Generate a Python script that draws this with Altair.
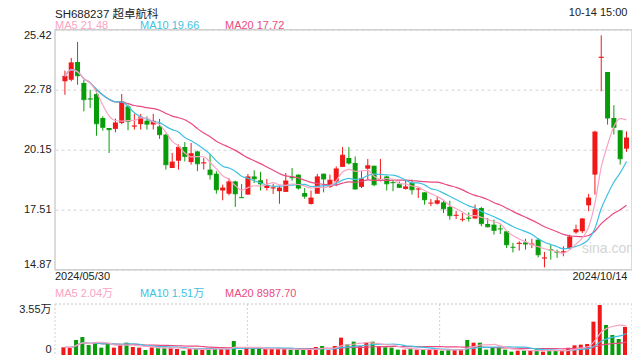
import altair as alt
import pandas as pd

# ---- data (daily candles 2024/05/30 .. 2024/10/14) ----
opens = [23.15, 23.22, 24.00, 23.08, 22.39, 22.59, 21.54, 21.10, 21.06, 21.32,
         22.05, 21.17, 21.27, 21.42, 21.25, 21.17, 20.81, 19.34, 19.66, 20.26,
         19.60, 20.07, 19.55, 19.27, 19.09, 18.35, 18.21, 18.75, 18.06, 18.17,
         18.97, 18.80, 18.46, 18.45, 18.32, 18.29, 18.95, 19.05, 18.24, 17.76,
         18.21, 19.09, 18.51, 18.75, 19.39, 19.78, 19.56, 18.51, 19.31, 19.44,
         18.78, 18.97, 18.72, 18.65, 18.42, 18.68, 18.41, 18.27, 17.79, 17.77,
         17.83, 17.63, 17.24, 17.07, 17.15, 17.12, 17.58, 16.88, 16.85, 16.67,
         16.56, 15.86, 16.00, 16.07, 15.98, 16.19, 15.37, 15.76, 15.66, 15.63,
         15.82, 16.51, 16.56, 17.70, 19.05, 24.18, 23.56, 21.54, 21.00, 20.19]
highs = [23.62, 24.18, 24.88, 23.22, 22.78, 22.78, 21.61, 21.10, 21.51, 22.59,
         22.12, 21.72, 21.72, 21.61, 21.72, 21.50, 20.84, 20.00, 20.37, 20.48,
         20.44, 20.10, 19.78, 19.96, 19.20, 18.61, 18.90, 18.78, 18.64, 19.08,
         19.24, 19.17, 18.86, 18.65, 18.56, 19.12, 19.34, 19.05, 18.46, 18.35,
         19.08, 19.09, 19.05, 19.41, 20.26, 20.26, 19.85, 19.22, 19.74, 19.44,
         19.74, 19.00, 18.83, 18.75, 18.83, 18.83, 18.49, 18.27, 17.98, 18.10,
         17.90, 17.90, 17.46, 17.36, 17.39, 17.73, 17.63, 17.14, 17.07, 16.85,
         16.60, 16.05, 16.12, 16.23, 16.23, 16.26, 15.65, 15.97, 15.75, 15.90,
         16.41, 16.85, 17.14, 18.20, 20.98, 25.17, 23.56, 22.10, 21.00, 20.95]
lows = [22.56, 23.15, 23.00, 21.83, 21.98, 20.76, 20.98, 20.00, 20.91, 21.27,
        21.00, 21.03, 21.03, 21.03, 21.03, 20.62, 19.27, 19.34, 19.27, 19.63,
        19.49, 19.20, 19.27, 18.83, 18.21, 17.92, 18.14, 17.63, 18.02, 18.17,
        18.68, 18.35, 18.35, 18.20, 17.77, 18.29, 18.78, 18.39, 17.99, 17.73,
        18.21, 18.27, 18.46, 18.54, 19.39, 19.49, 18.39, 18.46, 18.83, 18.54,
        18.75, 18.35, 18.32, 18.46, 18.39, 18.17, 18.02, 17.73, 17.66, 17.73,
        17.36, 17.07, 17.10, 16.99, 16.99, 17.12, 16.78, 16.73, 16.41, 16.44,
        15.82, 15.63, 15.71, 15.75, 15.82, 15.41, 14.97, 15.31, 15.39, 15.46,
        15.75, 16.45, 16.48, 17.44, 18.17, 22.71, 21.25, 20.81, 19.49, 20.05]
closes = [23.37, 23.96, 23.40, 22.35, 22.37, 21.29, 21.13, 21.03, 21.32, 22.24,
          21.39, 21.19, 21.57, 21.27, 21.39, 20.81, 19.49, 19.60, 20.25, 19.85,
          19.97, 19.53, 19.57, 19.05, 18.39, 18.46, 18.73, 18.21, 18.04, 18.95,
          18.87, 18.65, 18.56, 18.47, 18.46, 18.77, 18.92, 18.46, 18.10, 18.02,
          18.95, 18.86, 18.80, 19.30, 19.90, 19.56, 18.42, 18.86, 19.44, 18.61,
          18.83, 18.65, 18.70, 18.49, 18.51, 18.39, 18.42, 17.95, 17.80, 17.90,
          17.55, 17.25, 17.26, 17.08, 17.13, 17.51, 16.90, 16.76, 16.60, 16.66,
          15.97, 15.85, 16.03, 16.00, 16.00, 15.53, 15.39, 15.74, 15.64, 15.66,
          16.31, 16.63, 17.10, 18.02, 20.92, 24.21, 21.54, 21.13, 19.75, 20.66]
volumes = [5336, 5336, 10440, 12528, 6960, 8816, 5104, 8120, 5104, 6960,
           8584, 5568, 5104, 3480, 5336, 5104, 5104, 5104, 4176, 3016,
           4176, 4176, 3712, 4640, 4640, 4176, 4176, 9744, 3480, 5104,
           4176, 4176, 4176, 4176, 4176, 4176, 3712, 3712, 3712, 3712,
           5568, 6264, 3480, 6264, 12064, 7424, 9280, 6264, 8584, 9280,
           5800, 5336, 5104, 3712, 3712, 4176, 3712, 3712, 3712, 3944,
           3016, 3712, 3712, 3712, 10440, 8584, 8584, 3712, 5336, 5336,
           3712, 2320, 3016, 3016, 3016, 3944, 2320, 3016, 3016, 2784,
           5104, 6728, 7192, 7656, 23200, 34800, 20880, 13920, 11136, 19488]

price_ticks = [14.87, 17.51, 20.15, 22.78, 25.42]
vol_max = 35500

df = pd.DataFrame({"i": list(range(len(closes))), "open": opens, "high": highs,
                   "low": lows, "close": closes, "vol": volumes})

RED = "#f01818"
GREEN = "#089c08"
C5 = "#f9a4c2"
C10 = "#3fc1e3"
C20 = "#ea4a82"
FONT = "Liberation Sans, Noto Sans CJK SC, sans-serif"

W = 577
PH = 240
VTOP = 274.3
VBOT = 325.3
H = 326

xs = alt.Scale(domain=[-0.78, 89.08], nice=False, zero=False)
X = alt.X("i:Q", scale=xs, axis=None)
ps = alt.Scale(domain=[price_ticks[0], price_ticks[-1]], range=[PH, 0], nice=False, zero=False)
vs = alt.Scale(domain=[0, vol_max], range=[VBOT, VTOP], nice=False, zero=False)

updown = alt.condition("datum.close >= datum.open", alt.value(RED), alt.value(GREEN))

price_axis = alt.Axis(values=price_ticks, format=".2f", labelFlush=True, ticks=False,
                      domain=False, grid=True, gridDash=[3, 3], gridColor="#e2e2e2",
                      gridWidth=1.5, labelFontSize=11, labelColor="#222", labelFont=FONT,
                      labelPadding=4, title=None, orient="left")
vol_axis = alt.Axis(values=[0, vol_max], labelExpr="datum.value == 0 ? '0' : '3.55万'",
                    labelFlush=True, ticks=False, domain=False, grid=False,
                    labelFontSize=11, labelColor="#222", labelFont=FONT,
                    labelPadding=4, title=None, orient="left")

base = alt.Chart(df)
one = alt.Data(values=[{"k": 1}])

frame = alt.Chart(one).mark_rect(fill=None, stroke="#d0d0d0", strokeWidth=1.5).encode(
    x=alt.value(0), x2=alt.value(W), y=alt.value(0), y2=alt.value(PH))

wick = base.mark_rule(strokeWidth=1).encode(
    x=X, y=alt.Y("low:Q", scale=ps, axis=price_axis), y2="high:Q", color=updown)
body = base.mark_bar(size=5).encode(
    x=X, y=alt.Y("open:Q", scale=ps), y2="close:Q", color=updown)
tick = base.mark_tick(orient="horizontal", size=5, thickness=1.3).encode(
    x=X, y=alt.Y("close:Q", scale=ps), color=updown)


def ma_line(field, n, col, scale):
    name = f"ma{n}_{field}"
    return base.transform_window(
        **{name: f"mean({field})"}, frame=[-(n - 1), 0], sort=[alt.SortField("i")]
    ).mark_line(color=col, strokeWidth=1.2, interpolate="monotone").encode(
        x=X, y=alt.Y(f"{name}:Q", scale=scale))


price_layer = alt.layer(frame, wick, body, tick,
                        ma_line("close", 20, C20, ps),
                        ma_line("close", 10, C10, ps),
                        ma_line("close", 5, C5, ps))

vgrid_x = [{"gx": v} for v in [0, W / 3, 2 * W / 3, W]]
vgrid = alt.Chart(alt.Data(values=vgrid_x)).mark_rule(
    color="#d0d0d0", strokeDash=[2, 2], strokeWidth=1).encode(
    x=alt.X("gx:Q", scale=alt.Scale(domain=[0, W], range=[0, W]), axis=None),
    y=alt.value(VTOP), y2=alt.value(VBOT))
vtop = alt.Chart(one).mark_rule(color="#c8c8c8", strokeDash=[2, 2], strokeWidth=1).encode(
    x=alt.value(0), x2=alt.value(W), y=alt.value(VTOP))

vbars = base.mark_bar(size=4, xOffset=-1.5).encode(
    x=X, y=alt.Y("vol:Q", scale=vs, axis=vol_axis), color=updown)

vol_layer = alt.layer(vbars,
                      ma_line("vol", 20, C20, vs),
                      ma_line("vol", 10, C10, vs),
                      ma_line("vol", 5, C5, vs))


def txt(t, x, y, col="#222", size=11, align="left", baseline="middle"):
    return alt.Chart(one).mark_text(text=t, align=align, baseline=baseline, font=FONT,
                                    fontSize=size, color=col).encode(
        x=alt.value(x), y=alt.value(y))


RIGHT = W - 4.5
texts = [
    txt("SH688237 超卓航科", 0, -21.0, "#222", 11.5, "left", "top"),
    txt("10-14 15:00", RIGHT, -16.5, "#222", 11, "right"),
    txt("MA5 21.48", 0, -3.7, C5),
    txt("MA10 19.66", 85, -3.7, C10),
    txt("MA20 17.72", 170, -3.7, C20),
    txt("2024/05/30", 0, 247.6),
    txt("2024/10/14", RIGHT, 247.6, "#222", 11, "right"),
    txt("MA5 2.04万", 0, 264.6, C5),
    txt("MA10 1.51万", 85, 264.6, C10),
    txt("MA20 8987.70", 170, 264.6, C20),
    txt("sina.com", 527, 219.6, "#d4d4d4", 14),
]

chart = alt.layer(price_layer, vgrid, vtop, vol_layer, *texts).resolve_scale(
    y="independent", x="independent"
).properties(
    width=W, height=H,
    autosize=alt.AutoSizeParams(type="none"),
    padding={"left": 47, "top": 21.7, "right": 0, "bottom": 0},
).configure_view(stroke=None)

chart.save("out.html", embed_options={"renderer": "svg", "actions": False})
